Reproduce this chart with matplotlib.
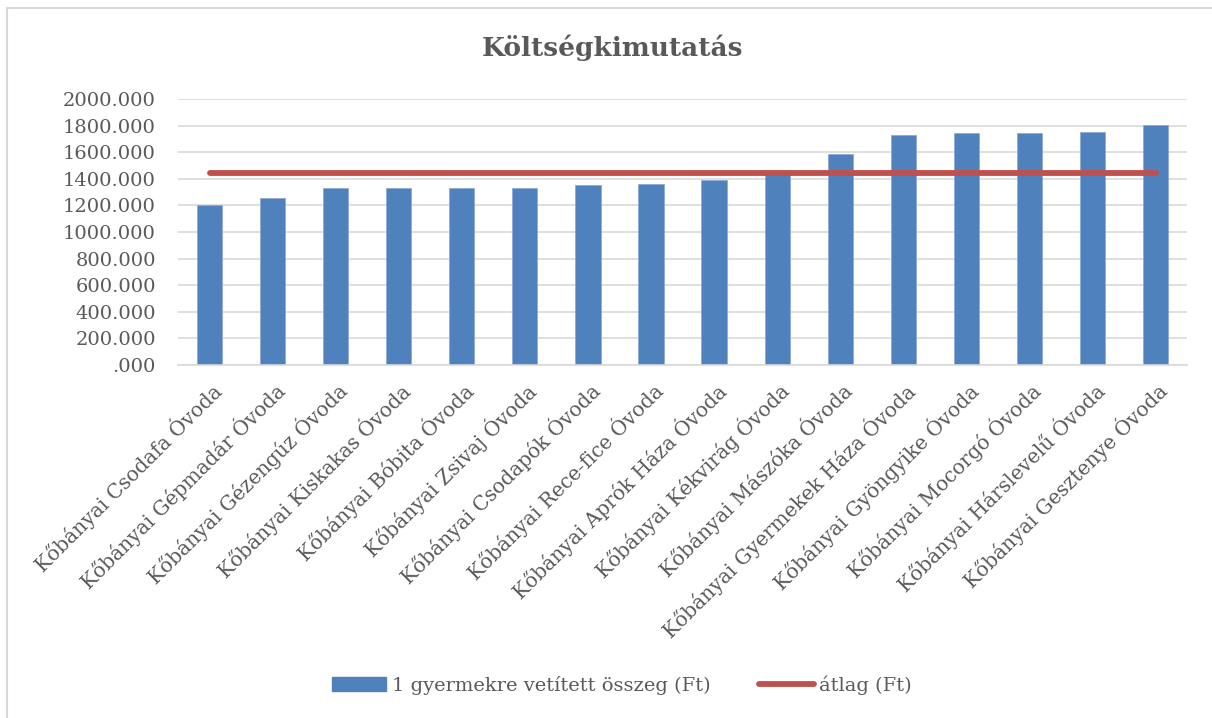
import matplotlib.pyplot as plt
from matplotlib.patches import Patch, Rectangle
from matplotlib.lines import Line2D

categories = [
    "Kőbányai Csodafa Óvoda", "Kőbányai Gépmadár Óvoda", "Kőbányai Gézengúz Óvoda",
    "Kőbányai Kiskakas Óvoda", "Kőbányai Bóbita Óvoda", "Kőbányai Zsivaj Óvoda",
    "Kőbányai Csodapók Óvoda", "Kőbányai Rece-fice Óvoda", "Kőbányai Aprók Háza Óvoda",
    "Kőbányai Kékvirág Óvoda", "Kőbányai Mászóka Óvoda", "Kőbányai Gyermekek Háza Óvoda",
    "Kőbányai Gyöngyike Óvoda", "Kőbányai Mocorgó Óvoda", "Kőbányai Hárslevelű Óvoda",
    "Kőbányai Gesztenye Óvoda",
]
per_child = [1200, 1253, 1328, 1333, 1333, 1333, 1353, 1363, 1391, 1435,
             1586, 1727, 1742, 1744, 1749, 1804]
average = [1441] * len(categories)
yticks = [0, 200, 400, 600, 800, 1000, 1200, 1400, 1600, 1800, 2000]
ytick_labels = [".000", "200.000", "400.000", "600.000", "800.000", "1000.000",
                "1200.000", "1400.000", "1600.000", "1800.000", "2000.000"]

BLUE = "#4F81BD"
RED = "#C0504D"
GRAY = "#595959"
GRID = "#D9D9D9"
FONT = "DejaVu Serif"

plt.rcParams["font.family"] = FONT

fig = plt.figure(figsize=(12.12, 7.18), dpi=100)
# chart frame (right and bottom edges fall outside the picture)
fig.patches.append(Rectangle((7 / 1212, -0.1), 1.2, 1 - 8 / 718 + 0.1, transform=fig.transFigure,
                             fill=False, edgecolor=GRID, linewidth=1.5))
ax = fig.add_axes([0.1469, 0.4916, 0.8325, 0.3705])

x = list(range(len(categories)))
ax.bar(x, per_child, width=0.4, color=BLUE, edgecolor="#8FAADC", linewidth=0.6, zorder=2)
ax.plot(x, average, color=RED, linewidth=4.2, solid_capstyle="round", zorder=3)

ax.set_xlim(-0.5, len(categories) - 0.5)
ax.set_ylim(0, 2000)
ax.set_yticks(yticks)
ax.set_yticklabels(ytick_labels)
ax.set_xticks(x)
ax.set_xticklabels(categories, rotation=45, ha="right", rotation_mode="anchor")
ax.tick_params(axis="both", length=0, labelcolor=GRAY)
ax.tick_params(axis="y", pad=16, labelsize=14)
ax.tick_params(axis="x", pad=10, labelsize=14.5)
ax.grid(axis="y", color=GRID, linewidth=1.2, zorder=0)
for side in ["left", "right", "top"]:
    ax.spines[side].set_visible(False)
ax.spines["bottom"].set_color(GRID)
ax.spines["bottom"].set_linewidth(1.2)

fig.text(0.505, 0.933, "Költségkimutatás", ha="center", va="center",
         fontsize=19, fontweight="bold", color=GRAY)

handles = [Patch(facecolor=BLUE, edgecolor=BLUE),
           Line2D([0], [0], color=RED, linewidth=4.2, solid_capstyle="round")]
labels = ["1 gyermekre vetített összeg (Ft)", "átlag (Ft)"]
fig.legend(handles, labels, loc="center", bbox_to_anchor=(0.513, 0.046), ncol=2,
           frameon=False, fontsize=14, labelcolor=GRAY, columnspacing=2.5,
           handlelength=2.8, handletextpad=0.3)

fig.savefig("out.png", dpi=100)
